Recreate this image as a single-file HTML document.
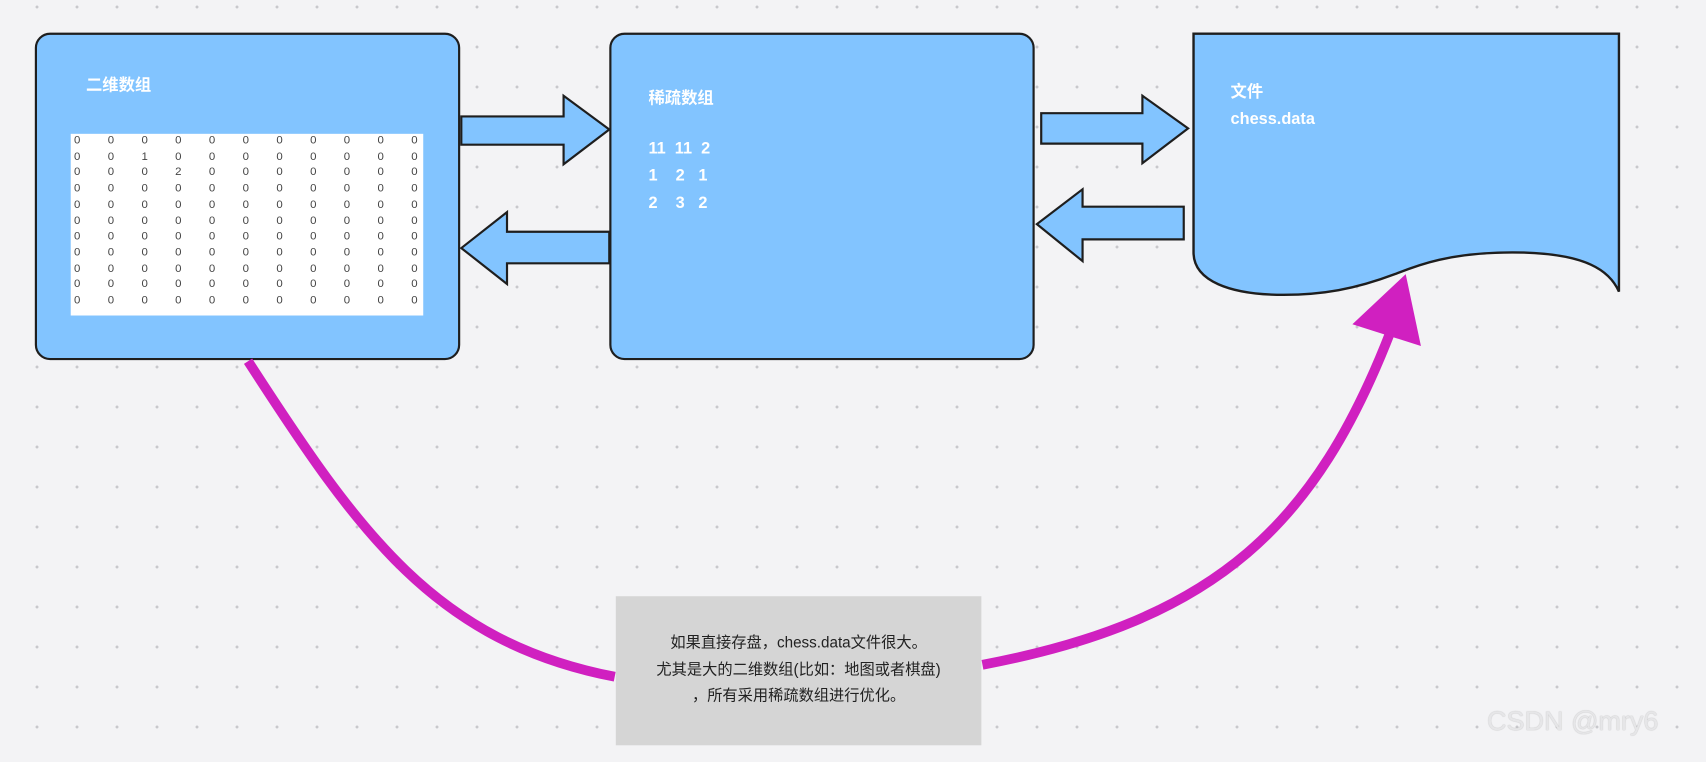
<!DOCTYPE html>
<html><head><meta charset="utf-8"><style>
html,body{margin:0;padding:0;}
body{width:1706px;height:762px;overflow:hidden;background-color:#f3f3f5;
background-image:radial-gradient(circle,#c8c8cc 1.3px,transparent 1.6px);
background-size:40px 40px;background-position:17px -13px;
font-family:"Liberation Sans","Noto Sans CJK SC",sans-serif;}
#w{position:absolute;left:0;top:0;width:1568px;height:700px;transform:scale(1.088);transform-origin:0 0;}
.box{position:absolute;background:#82c4ff;border:2px solid #1e1e1e;border-radius:14px;box-sizing:border-box;}
.t{position:absolute;color:#fff;font-weight:bold;font-size:15px;white-space:pre;}
#mat{position:absolute;left:65px;top:123px;width:324px;height:167px;background:#fff;}
#mat span{position:absolute;font-size:10.5px;color:#444;font-family:"Liberation Sans",sans-serif;}
#note{position:absolute;left:566px;top:548px;width:336px;height:137px;background:#d5d5d5;font-size:14px;color:#222;text-align:center;line-height:24.5px;box-sizing:border-box;padding-top:30px;}
#wm{position:absolute;left:1487px;top:706px;font-size:27px;color:#e6e6e8;text-shadow:0 0 1px #aaa;font-weight:normal;}
</style></head><body>
<div id="w">
<div class="box" style="left:32px;top:30px;width:391px;height:301px"></div>
<div class="box" style="left:560px;top:30px;width:391px;height:301px"></div>
<div class="t" style="left:79px;top:67px">二维数组</div>
<div id="mat"></div>
<div class="t" style="left:596px;top:79px">稀疏数组</div>
<div class="t" style="left:596px;top:124px;line-height:25px">11  11  2
1    2   1
2    3   2</div>
<svg style="position:absolute;left:0;top:0" width="1568" height="700">
<path d="M1097,31 H1488 V268 C1480,250 1460,232 1390,232 C1330,232 1300,245 1282,252 C1245,266 1215,271 1180,271 C1130,271 1097,258 1097,232 Z" fill="#82c4ff" stroke="#1e1e1e" stroke-width="2.2"/>
<g fill="#82c4ff" stroke="#1e1e1e" stroke-width="2">
<path d="M424,107 H518 V88 L560,119 L518,151 V133 H424 Z"/>
<path d="M560,213 H466 V195 L424,228 L466,261 V242 H560 Z"/>
<path d="M957,104 H1050 V88 L1092,118 L1050,150 V132 H957 Z"/>
<path d="M1088,190 H995 V174 L953,206 L995,240 V220 H1088 Z"/>
</g>
<g fill="none" stroke="#d020c0" stroke-width="9">
<path d="M228,332 C330,490 400,590 565,622"/>
<path d="M903,611 C1120,570 1210,480 1278,305"/>
</g>
<path d="M1243,298 L1306,318 L1292,252 Z" fill="#d020c0"/>
</svg>
<div class="t" style="left:1131px;top:72px;line-height:25px">文件
chess.data</div>
<div id="note">如果直接存盘，chess.data文件很大。<br>尤其是大的二维数组(比如：地图或者棋盘)<br>，所有采用稀疏数组进行优化。</div>
</div>
<div id="wm">CSDN @mry6</div>
<script>
var m=document.getElementById('mat'),h='';
for(var r=0;r<11;r++)for(var c=0;c<11;c++){var v=(r==1&&c==2)?1:(r==2&&c==3)?2:0;
h+='<span style="left:'+(3+c*31)+'px;top:'+(0+r*14.7)+'px">'+v+'</span>';}
m.innerHTML=h;
</script>
</body></html>
